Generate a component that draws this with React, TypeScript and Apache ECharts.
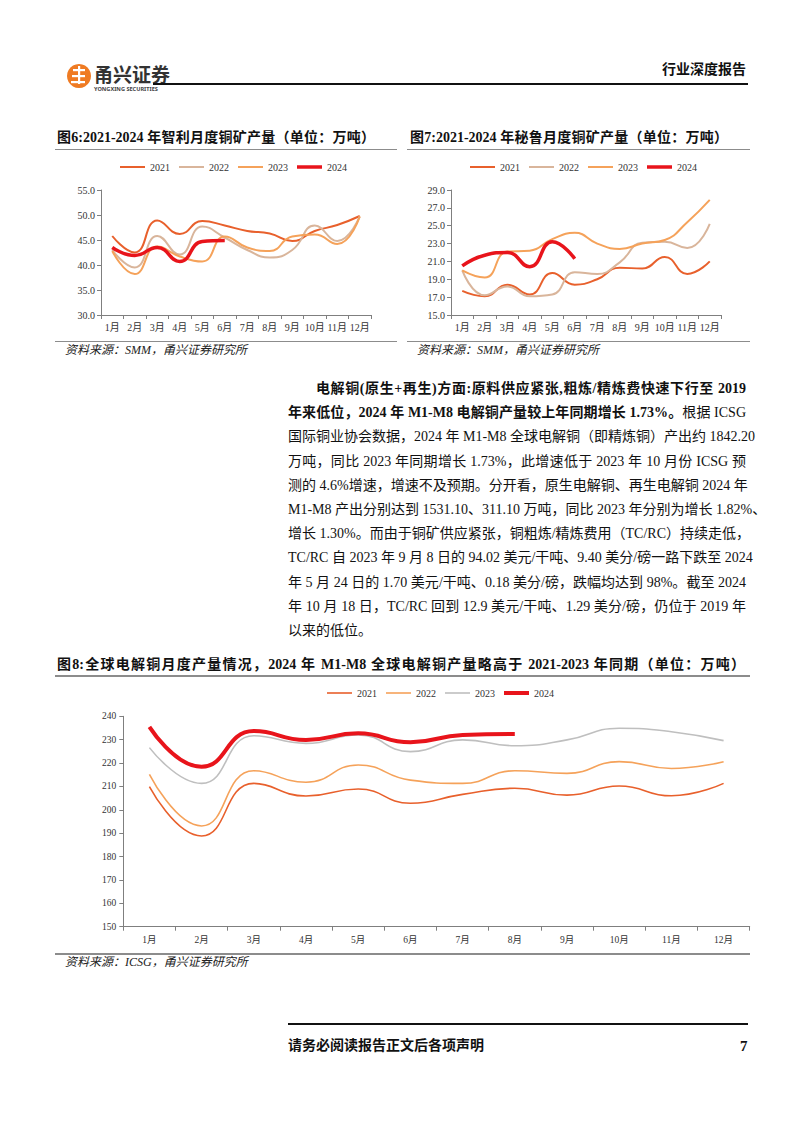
import React, { useEffect, useRef } from "react";
import * as echarts from "echarts";

const months = ["1月", "2月", "3月", "4月", "5月", "6月", "7月", "8月", "9月", "10月", "11月", "12月"];
const years = ["2021", "2022", "2023", "2024"];

// 图6 智利月度铜矿产量（万吨）
const chile2021 = [45.8, 42.5, 48.9, 46.2, 48.8, 47.9, 46.8, 46.3, 44.8, 46.8, 48.0, 49.8];
const chile2022 = [43.0, 39.5, 45.8, 42.1, 47.7, 45.5, 43.0, 41.5, 43.0, 47.9, 44.8, 49.7];
const chile2023 = [42.8, 38.2, 43.7, 41.7, 40.7, 45.7, 43.5, 42.8, 45.7, 46.1, 44.2, 49.7];
const chile2024 = [43.5, 41.9, 43.5, 40.7, 44.7, 44.9];

// 图7 秘鲁月度铜矿产量（万吨）
const peru2021 = [17.7, 17.1, 18.4, 17.3, 19.7, 18.4, 19.0, 20.3, 20.2, 21.5, 19.6, 21.0];
const peru2022 = [20.0, 17.2, 18.2, 17.1, 17.3, 19.8, 19.6, 20.9, 23.1, 23.2, 22.5, 25.2];
const peru2023 = [20.0, 19.2, 22.1, 22.2, 23.5, 24.2, 23.0, 22.4, 23.0, 23.4, 25.4, 27.9];
const peru2024 = [20.5, 21.7, 22.0, 20.4, 23.2, 21.3];

// 图8 全球电解铜月度产量（万吨）
const global2021 = [209.9, 188.8, 211.3, 205.9, 208.9, 202.8, 206.6, 209.2, 206.3, 210.2, 206.0, 211.3];
const global2022 = [215.2, 193.1, 216.7, 211.8, 219.2, 212.7, 211.3, 216.7, 215.6, 220.6, 217.7, 220.6];
const global2023 = [226.6, 211.3, 231.7, 228.4, 232.0, 224.9, 229.9, 227.4, 229.9, 234.9, 233.4, 229.6];
const global2024 = [235.5, 218.4, 233.7, 229.9, 232.7, 228.9, 232.0, 232.4];

const SERIF = '"Liberation Serif", "Noto Sans CJK SC", serif';

const paraLines: { parts: { t: string; b?: boolean }[]; indent?: boolean; last?: boolean }[] = [
  { parts: [{ t: "电解铜(原生+再生)方面:原料供应紧张,粗炼/精炼费快速下行至 2019", b: true }], indent: true },
  { parts: [{ t: "年来低位，2024 年 M1-M8 电解铜产量较上年同期增长 1.73%。", b: true }, { t: "根据 ICSG" }] },
  { parts: [{ t: "国际铜业协会数据，2024 年 M1-M8 全球电解铜（即精炼铜）产出约 1842.20" }] },
  { parts: [{ t: "万吨，同比 2023 年同期增长 1.73%，此增速低于 2023 年 10 月份 ICSG 预" }] },
  { parts: [{ t: "测的 4.6%增速，增速不及预期。分开看，原生电解铜、再生电解铜 2024 年" }] },
  { parts: [{ t: "M1-M8 产出分别达到 1531.10、311.10 万吨，同比 2023 年分别为增长 1.82%、" }] },
  { parts: [{ t: "增长 1.30%。而由于铜矿供应紧张，铜粗炼/精炼费用（TC/RC）持续走低，" }] },
  { parts: [{ t: "TC/RC 自 2023 年 9 月 8 日的 94.02 美元/干吨、9.40 美分/磅一路下跌至 2024" }] },
  { parts: [{ t: "年 5 月 24 日的 1.70 美元/干吨、0.18 美分/磅，跌幅均达到 98%。截至 2024" }] },
  { parts: [{ t: "年 10 月 18 日，TC/RC 回到 12.9 美元/干吨、1.29 美分/磅，仍位于 2019 年" }] },
  { parts: [{ t: "以来的低位。" }], last: true },
];

const linePath = (w: number) => `path://M0 0H25V${w}H0Z`;

function buildOption() {
  const axisColor = "#7f7f7f";
  const labelStyle = { fontFamily: SERIF, fontSize: 10, color: "#333" };
  const small = [
    { key: "智利", left: 101, data: [chile2021, chile2022, chile2023, chile2024], min: 30, max: 55, interval: 5 },
    { key: "秘鲁", left: 451, data: [peru2021, peru2022, peru2023, peru2024], min: 15, max: 29, interval: 2 },
  ];
  const smallColors = ["#E8602C", "#D9B59B", "#F5A25A", "#E8141B"];
  const bigColors = ["#E8602C", "#F5A25A", "#BFBFBF", "#E8141B"];

  const grid: any[] = [];
  const xAxis: any[] = [];
  const yAxis: any[] = [];
  const series: any[] = [];
  const legend: any[] = [];

  small.forEach((c, i) => {
    grid.push({ left: c.left, top: 190, width: 270, height: 125 });
    xAxis.push({
      type: "category", gridIndex: i, data: months, boundaryGap: true,
      axisLine: { lineStyle: { color: axisColor } },
      axisTick: { show: true, length: 4, lineStyle: { color: axisColor } },
      axisLabel: { ...labelStyle, margin: 7, interval: 0 },
    });
    yAxis.push({
      type: "value", gridIndex: i, min: c.min, max: c.max, interval: c.interval,
      axisLine: { show: true, lineStyle: { color: axisColor } },
      axisTick: { show: true, length: 4, lineStyle: { color: axisColor } },
      splitLine: { show: false },
      axisLabel: { ...labelStyle, margin: 6, formatter: (v: number) => v.toFixed(1) },
    });
    years.forEach((y, k) => {
      series.push({
        type: "line", name: `${c.key}-${y}`, xAxisIndex: i, yAxisIndex: i,
        data: c.data[k], smooth: true, symbol: "none",
        lineStyle: { color: smallColors[k], width: k === 3 ? 3.5 : 2 },
        itemStyle: { color: smallColors[k] },
        z: k === 3 ? 5 : 2,
      });
    });
    legend.push({
      data: years.map((y, k) => ({ name: `${c.key}-${y}`, icon: linePath(k === 3 ? 3.5 : 2) })),
      formatter: (n: string) => n.split("-")[1],
      left: c.left + 14, top: 157, itemWidth: 25, itemHeight: 10, itemGap: 9,
      textStyle: { fontFamily: SERIF, fontSize: 10, color: "#333" },
      selectedMode: false,
    });
  });

  grid.push({ left: 123.3, top: 716.3, width: 626.4, height: 210.4 });
  xAxis.push({
    type: "category", gridIndex: 2, data: months, boundaryGap: true,
    axisLine: { lineStyle: { color: axisColor } },
    axisTick: { show: true, length: 4, lineStyle: { color: axisColor } },
    axisLabel: { ...labelStyle, fontSize: 9.5, margin: 9, interval: 0 },
  });
  yAxis.push({
    type: "value", gridIndex: 2, min: 150, max: 240, interval: 10,
    axisLine: { show: true, lineStyle: { color: axisColor } },
    axisTick: { show: true, length: 4, lineStyle: { color: axisColor } },
    splitLine: { show: false },
    axisLabel: { ...labelStyle, fontSize: 9.5, margin: 7 },
  });
  const gData = [global2021, global2022, global2023, global2024];
  years.forEach((y, k) => {
    series.push({
      type: "line", name: `全球-${y}`, xAxisIndex: 2, yAxisIndex: 2,
      data: gData[k], smooth: true, symbol: "none",
      lineStyle: { color: bigColors[k], width: k === 3 ? 4 : 1.6 },
      itemStyle: { color: bigColors[k] },
      z: k === 3 ? 5 : 2,
    });
  });
  legend.push({
    data: years.map((y, k) => ({ name: `全球-${y}`, icon: linePath(k === 3 ? 4 : 1.6) })),
    formatter: (n: string) => n.split("-")[1],
    left: 322, top: 683, itemWidth: 25, itemHeight: 10, itemGap: 9,
    textStyle: { fontFamily: SERIF, fontSize: 10, color: "#333" },
    selectedMode: false,
  });

  const graphic: any[] = [
    { type: "circle", shape: { cx: 79, cy: 76, r: 12 }, style: { fill: "#EF7B23" } },
    { type: "rect", shape: { x: 73, y: 69, width: 12, height: 2.2 }, style: { fill: "#fff" } },
    { type: "rect", shape: { x: 72, y: 75, width: 13, height: 2.2 }, style: { fill: "#fff" } },
    { type: "rect", shape: { x: 71, y: 81, width: 14, height: 2.2 }, style: { fill: "#fff" } },
    { type: "rect", shape: { x: 78, y: 66, width: 2.2, height: 18 }, style: { fill: "#fff" } },
  ];

  return { animation: false, backgroundColor: "transparent", grid, xAxis, yAxis, series, legend, graphic };
}

const lineDiv = (left: number, top: number, width: number, h: number, color: string) => (
  <div style={{ position: "absolute", left, top, width, height: h, background: color }} />
);

export default function App() {
  const ref = useRef<HTMLDivElement>(null);
  useEffect(() => {
    const chart = echarts.init(ref.current!, null, { renderer: "svg" });
    chart.setOption(buildOption() as any);
    return () => chart.dispose();
  }, []);

  const txt = (content: React.ReactNode, style: React.CSSProperties) => (
    <div style={{ position: "absolute", whiteSpace: "nowrap", fontFamily: SERIF, color: "#111", ...style }}>{content}</div>
  );

  return (
    <div style={{ position: "absolute", left: 0, top: 0, width: 802, height: 1133, background: "#fff", overflow: "hidden" }}>
      <div ref={ref} style={{ position: "absolute", left: 0, top: 0, width: 802, height: 1133 }} />

      {/* header */}
      {txt("甬兴证券", { left: 94, top: 64, fontSize: 19, fontWeight: 700, fontFamily: '"Noto Sans CJK SC", sans-serif', color: "#333", lineHeight: "20px" })}
      {txt("YONGXING SECURITIES", { left: 94, top: 86, fontSize: 5.6, fontWeight: 700, fontFamily: '"Noto Sans", sans-serif', color: "#444", lineHeight: "7px" })}
      {lineDiv(153, 83, 595, 2, "#111")}
      {txt("行业深度报告", { left: 662, top: 62, fontSize: 14, fontWeight: 700, lineHeight: "16px" })}

      {/* chart 6 / 7 titles */}
      {txt("图6:2021-2024 年智利月度铜矿产量（单位：万吨）", { left: 57, top: 130, width: 318, fontSize: 14, fontWeight: 700, lineHeight: "16px", textAlign: "justify", textAlignLast: "justify" })}
      {lineDiv(55, 149, 342, 1, "#8c8c8c")}
      {txt("图7:2021-2024 年秘鲁月度铜矿产量（单位：万吨）", { left: 410, top: 130, width: 318, fontSize: 14, fontWeight: 700, lineHeight: "16px", textAlign: "justify", textAlignLast: "justify" })}
      {lineDiv(407, 149, 343, 1, "#8c8c8c")}

      {lineDiv(55, 341, 342, 1, "#8c8c8c")}
      {lineDiv(407, 341, 343, 1, "#8c8c8c")}
      {txt("资料来源：SMM，甬兴证券研究所", { left: 65, top: 343, fontSize: 12, fontStyle: "italic", lineHeight: "14px", color: "#222" })}
      {txt("资料来源：SMM，甬兴证券研究所", { left: 417, top: 343, fontSize: 12, fontStyle: "italic", lineHeight: "14px", color: "#222" })}

      {/* paragraph */}
      {paraLines.map((ln, i) => (
        <div
          key={i}
          style={{
            position: "absolute",
            left: ln.indent ? 316 : 288,
            top: 380 + i * 24.2,
            width: ln.indent ? 430 : 458,
            whiteSpace: "nowrap",
            fontFamily: SERIF,
            fontSize: 14,
            lineHeight: "18px",
            color: "#111",
            textAlign: "justify",
            textAlignLast: ln.last ? "left" : "justify",
          }}
        >
          {ln.parts.map((p, j) => (
            <span key={j} style={{ fontWeight: p.b ? 700 : 400 }}>{p.t}</span>
          ))}
        </div>
      ))}

      {/* chart 8 */}
      {txt("图8:全球电解铜月度产量情况，2024 年 M1-M8 全球电解铜产量略高于 2021-2023 年同期（单位：万吨）", { left: 57, top: 657, width: 688, fontSize: 14, fontWeight: 700, lineHeight: "16px", textAlign: "justify", textAlignLast: "justify" })}
      {lineDiv(55, 675, 695, 1.5, "#8c8c8c")}
      {lineDiv(55, 953, 695, 1.5, "#8c8c8c")}
      {txt("资料来源：ICSG，甬兴证券研究所", { left: 65, top: 955, fontSize: 12, fontStyle: "italic", lineHeight: "14px", color: "#222" })}

      {/* footer */}
      {lineDiv(288, 1023, 460, 1.5, "#111")}
      {txt("请务必阅读报告正文后各项声明", { left: 288, top: 1038, fontSize: 14, fontWeight: 700, lineHeight: "16px" })}
      {txt("7", { left: 740, top: 1038, fontSize: 15, fontWeight: 700, lineHeight: "16px" })}
    </div>
  );
}
